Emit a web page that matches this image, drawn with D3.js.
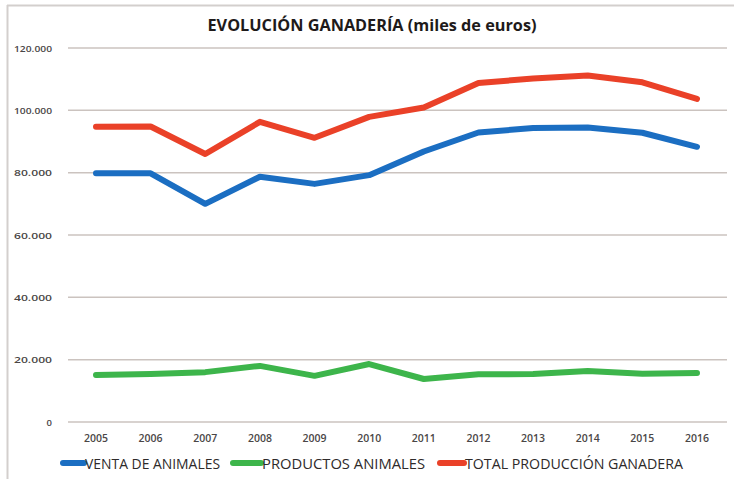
<!DOCTYPE html>
<html><head><meta charset="utf-8">
<script src="https://cdn.jsdelivr.net/npm/d3@7"></script>
<style>body{margin:0;background:#fff}svg{display:block}</style>
</head><body>
<svg id="c" width="734" height="479"></svg>
<script>
const years = ["2005","2006","2007","2008","2009","2010","2011","2012","2013","2014","2015","2016"];
const venta = [79800, 79800, 70000, 78700, 76400, 79200, 86800, 92900, 94300, 94500, 92800, 88300];
const productos = [15100, 15400, 16000, 18000, 14800, 18600, 13800, 15300, 15400, 16400, 15500, 15700];
const total = [94700, 94800, 86000, 96300, 91200, 97900, 100900, 108800, 110200, 111200, 109000, 103700];
const yTicks = [0, 20000, 40000, 60000, 80000, 100000, 120000];
const seriesNames = ["VENTA DE ANIMALES", "PRODUCTOS ANIMALES", "TOTAL PRODUCCIÓN GANADERA"];
const colors = ["#1b6ec2", "#3db54b", "#ea4128"];

const svg = d3.select("#c");
// frame
svg.append("line").attr("x1",7).attr("x2",734).attr("y1",5.5).attr("y2",5.5).attr("stroke","#d3cfcd").attr("stroke-width",2);
svg.append("line").attr("x1",7.5).attr("x2",7.5).attr("y1",5).attr("y2",479).attr("stroke","#d3cfcd").attr("stroke-width",2);

const x = d3.scalePoint().domain(years).range([96, 697]);
const y = d3.scaleLinear().domain([0, 120000]).range([422, 48]);
const fmt = v => v === 0 ? "0" : d3.format(",")(v).replace(/,/g, ".");

// gridlines
svg.append("g").selectAll("line").data(yTicks).join("line")
  .attr("x1",68).attr("x2",727)
  .attr("y1",d=>y(d)).attr("y2",d=>y(d))
  .attr("stroke","#cbc3bf").attr("stroke-width",1.5);

// y axis labels
svg.append("g").selectAll("text").data(yTicks).join("text")
  .attr("x",52).attr("y",d=>y(d)+3.5)
  .attr("text-anchor","end")
  .attr("font-family","'Open Sans', sans-serif").attr("font-size",9.5).attr("font-weight",600)
  .attr("fill","#4a4646")
  .attr("textLength", d => d===0 ? null : 38).attr("lengthAdjust","spacingAndGlyphs")
  .text(fmt);

// x axis labels
svg.append("g").selectAll("text").data(years).join("text")
  .attr("x",d=>x(d)).attr("y",442)
  .attr("text-anchor","middle")
  .attr("font-family","'Open Sans', sans-serif").attr("font-size",10).attr("font-weight",600)
  .attr("fill","#4a4646")
  .attr("textLength",24).attr("lengthAdjust","spacingAndGlyphs")
  .text(d=>d);

// lines
const data = [venta, productos, total];
const line = d3.line().x((d,i)=>x(years[i])).y(d=>y(d));
svg.append("g").selectAll("path").data(data).join("path")
  .attr("d", line)
  .attr("fill","none")
  .attr("stroke",(d,i)=>colors[i])
  .attr("stroke-width",6)
  .attr("stroke-linecap","round")
  .attr("stroke-linejoin","round");

// title
svg.append("text").attr("x",372).attr("y",31).attr("text-anchor","middle")
  .attr("font-family","'Open Sans', sans-serif").attr("font-size",16.5).attr("font-weight",700)
  .attr("fill","#1e1a1a")
  .attr("textLength",329).attr("lengthAdjust","spacingAndGlyphs")
  .text("EVOLUCIÓN GANADERÍA (miles de euros)");

// legend
const legX = [[60,85,220],[230,262,425],[437,465,683]];
const lg = svg.append("g");
seriesNames.forEach((n,i)=>{
  const [sx, tx, ex] = legX[i];
  lg.append("line").attr("x1",sx+3).attr("x2",tx-1).attr("y1",463).attr("y2",463)
    .attr("stroke",colors[i]).attr("stroke-width",6).attr("stroke-linecap","round");
  lg.append("text").attr("x",tx).attr("y",468.5)
    .attr("font-family","'Open Sans', sans-serif").attr("font-size",14)
    .attr("fill","#2e2a2a")
    .attr("textLength",ex-tx).attr("lengthAdjust","spacingAndGlyphs")
    .text(n);
});
</script>
</body></html>
